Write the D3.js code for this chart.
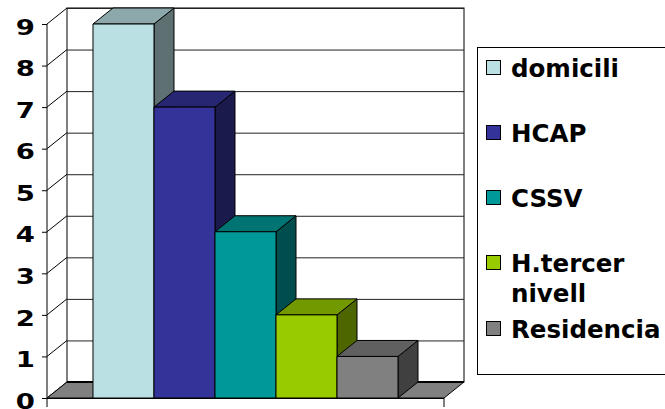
<!DOCTYPE html>
<html>
<head>
<meta charset="utf-8">
<script src="https://cdn.jsdelivr.net/npm/d3@7/dist/d3.min.js"></script>
<style>
  html, body { margin: 0; padding: 0; background: #fff; }
  svg { display: block; }
  text { font-family: "DejaVu Sans", Verdana, sans-serif; font-weight: bold; fill: #000; }
</style>
</head>
<body>
<svg id="chart" width="665" height="409"></svg>
<script>
// Series names, values and colours
const seriesNames = ["domicili", "HCAP", "CSSV", "H.tercer nivell", "Residencia"];
const seriesValues = [9, 7, 4, 2, 1];
const seriesColors = ["#BBE0E3", "#333399", "#009999", "#99CC00", "#808080"];
const legendLines = [["domicili"], ["HCAP"], ["CSSV"], ["H.tercer", "nivell"], ["Residencia"]];
const yTicks = [0, 1, 2, 3, 4, 5, 6, 7, 8, 9];

const svg = d3.select("#chart");

// Front plane geometry and 3D depth offset
const x0 = 47, x1 = 444, yBottom = 398, yTop = 24;
const dx = 20, dy = -16;

const y = d3.scaleLinear().domain([0, 9]).range([yBottom, yTop]);
const x = d3.scaleBand().domain(seriesNames).range([x0, x1])
  .paddingInner(0).paddingOuter(0.754);

const shade = (c, k) => {
  const col = d3.rgb(c);
  return d3.rgb(col.r * k, col.g * k, col.b * k).formatHex();
};

// Back wall
const wall = svg.append("g");
wall.append("rect")
  .attr("x", x0 + dx).attr("y", y(9) + dy)
  .attr("width", x1 - x0).attr("height", y(0) - y(9))
  .attr("fill", "#fff").attr("stroke", "#000").attr("stroke-width", 1);

// Gridlines on back wall and left side wall
yTicks.forEach(v => {
  wall.append("line")
    .attr("x1", x0 + dx).attr("x2", x1 + dx)
    .attr("y1", y(v) + dy + 0.5).attr("y2", y(v) + dy + 0.5)
    .attr("stroke", "#222").attr("stroke-width", 1);
  wall.append("line")
    .attr("x1", x0).attr("y1", y(v))
    .attr("x2", x0 + dx).attr("y2", y(v) + dy)
    .attr("stroke", "#000").attr("stroke-width", 1);
});

// Floor
wall.append("path")
  .attr("d", d3.line()([[x0, yBottom], [x1, yBottom], [x1 + dx, yBottom + dy], [x0 + dx, yBottom + dy]]) + "Z")
  .attr("fill", "#808080").attr("stroke", "#000").attr("stroke-width", 1);
wall.append("line")
  .attr("x1", x0 + dx).attr("x2", x1 + dx)
  .attr("y1", yBottom + dy).attr("y2", yBottom + dy)
  .attr("stroke", "#000").attr("stroke-width", 2);

// Bars (front, top and side faces), drawn left to right
const bars = svg.append("g");
seriesNames.forEach((name, i) => {
  const v = seriesValues[i];
  const c = seriesColors[i];
  const bx = x(name), bw = x.bandwidth();
  const ty = y(v), by = y(0);
  const g = bars.append("g").attr("stroke", "#000").attr("stroke-width", 1).attr("stroke-linejoin", "round");
  g.append("path")
    .attr("d", d3.line()([[bx + bw, ty], [bx + bw + dx, ty + dy], [bx + bw + dx, by + dy], [bx + bw, by]]) + "Z")
    .attr("fill", shade(c, 0.5));
  g.append("path")
    .attr("d", d3.line()([[bx, ty], [bx + dx, ty + dy], [bx + bw + dx, ty + dy], [bx + bw, ty]]) + "Z")
    .attr("fill", shade(c, 0.75));
  g.append("rect")
    .attr("x", bx).attr("y", ty).attr("width", bw).attr("height", by - ty)
    .attr("fill", c);
});

// Value axis
const yAxis = d3.axisLeft(y).tickValues(yTicks).tickSize(5).tickSizeOuter(0).tickFormat(d3.format("d"));
const ax = svg.append("g").attr("transform", `translate(${x0},0)`).call(yAxis);
ax.select(".domain").attr("stroke", "#000").attr("d", `M0,${yBottom}V${yTop}`);
ax.selectAll(".tick line").attr("stroke", "#000");
ax.selectAll(".tick text")
  .attr("x", 0).attr("dy", "0.46em")
  .attr("transform", "translate(-12,0) scale(1.25,1)")
  .style("font-family", "'DejaVu Sans', Verdana, sans-serif")
  .style("font-weight", "bold")
  .style("font-size", "22px");

// Category axis along the floor front edge
const xa = svg.append("g");
xa.append("line").attr("x1", x0).attr("x2", x1).attr("y1", yBottom + 0.5).attr("y2", yBottom + 0.5)
  .attr("stroke", "#000");
[x0, x1].forEach(px => {
  xa.append("line").attr("x1", px).attr("x2", px).attr("y1", yBottom).attr("y2", yBottom + 9)
    .attr("stroke", "#000");
});

// Legend
const legend = svg.append("g");
legend.append("rect")
  .attr("x", 477.5).attr("y", 47.5).attr("width", 220).attr("height", 327)
  .attr("fill", "#fff").attr("stroke", "#000");
const baselines = [[77], [142], [207], [272, 302], [338]];
legendLines.forEach((lines, i) => {
  const b = baselines[i][0];
  legend.append("rect")
    .attr("x", 486.5).attr("y", b - 16.5).attr("width", 14).attr("height", 14)
    .attr("fill", seriesColors[i]).attr("stroke", "#000");
  lines.forEach((t, j) => {
    legend.append("text")
      .attr("x", 511).attr("y", baselines[i][j])
      .style("font-size", "24.5px")
      .text(t);
  });
});
</script>
</body>
</html>
